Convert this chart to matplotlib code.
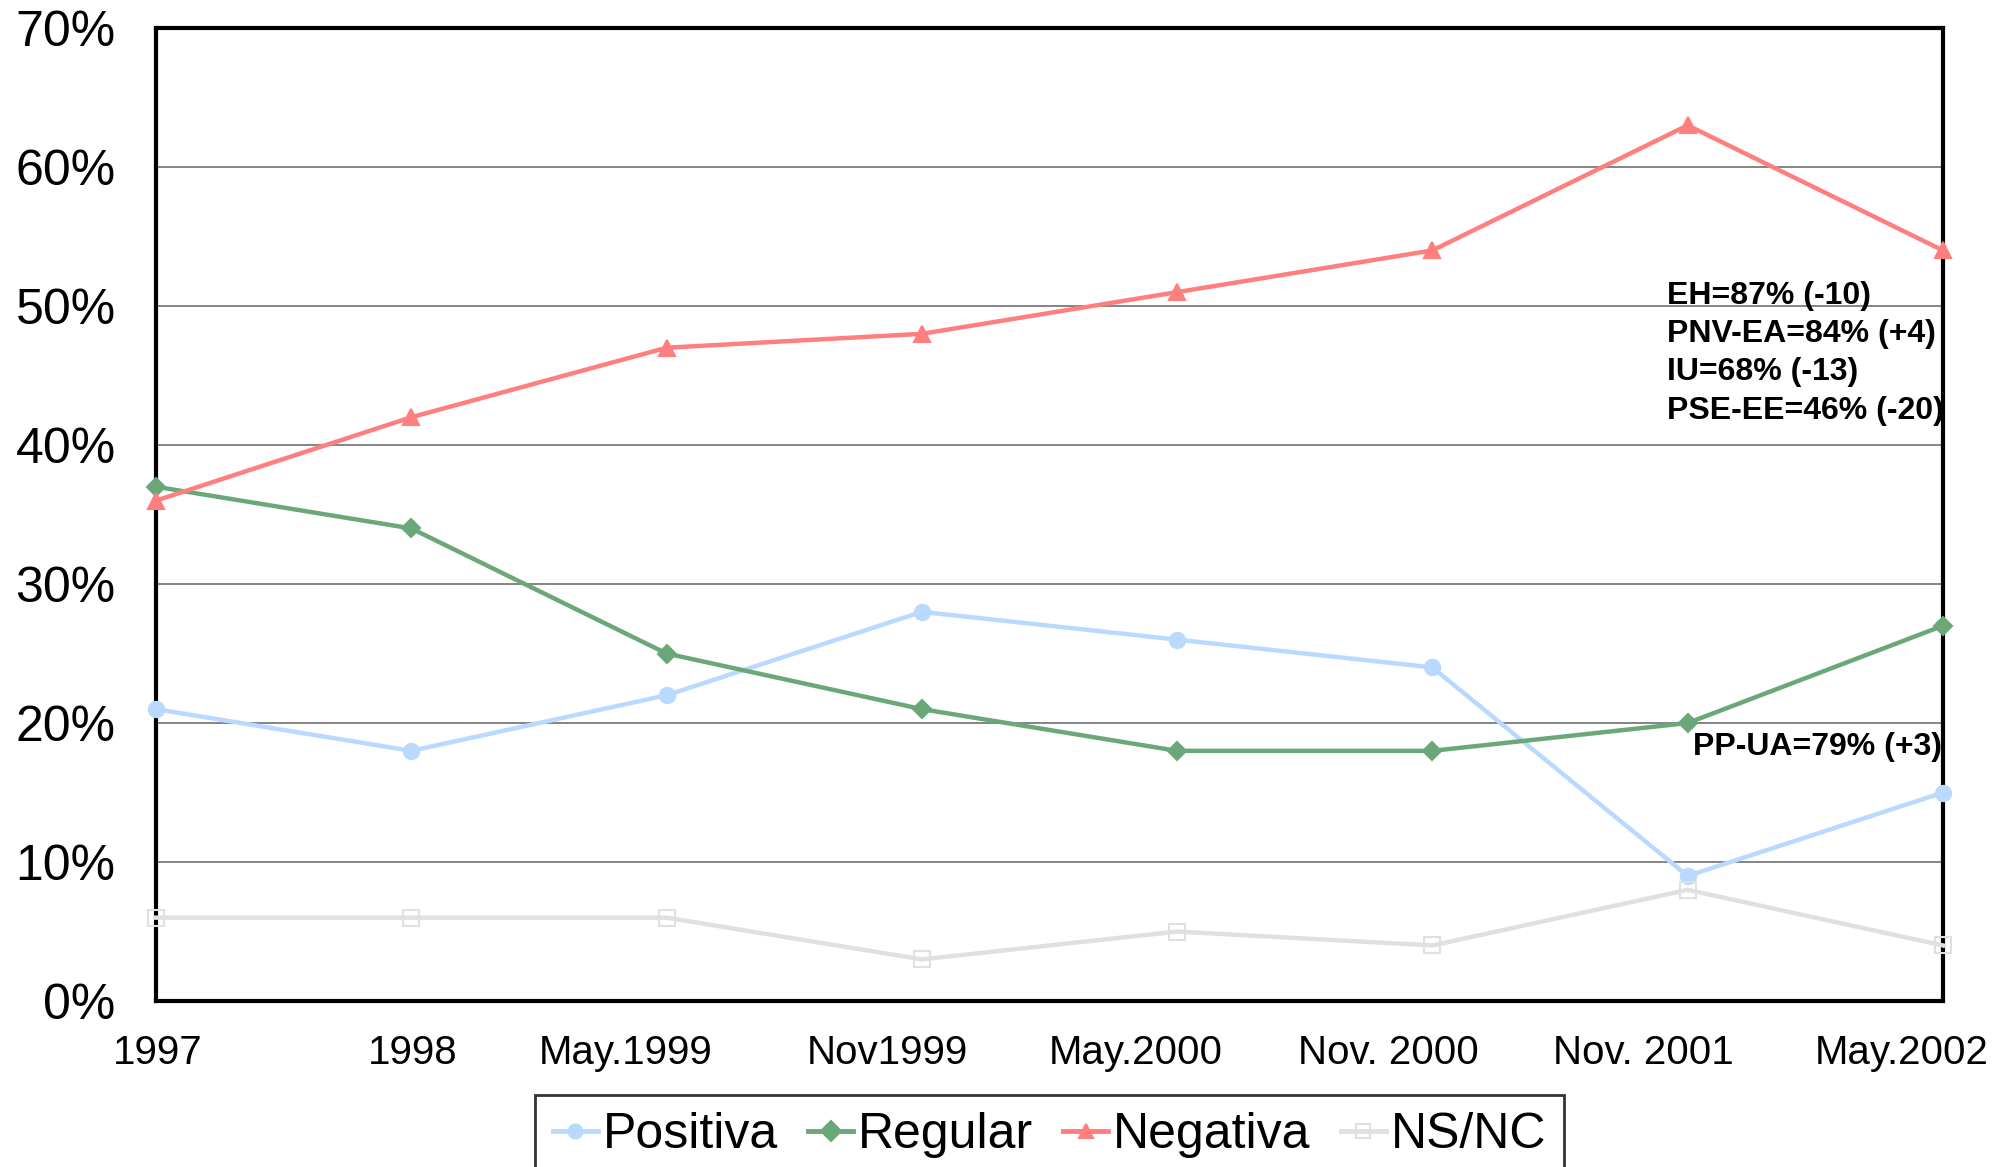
import numpy as np
import matplotlib
matplotlib.use('Agg')
import matplotlib.pyplot as plt
import matplotlib.transforms as mtransforms

plt.rcParams['font.family'] = ['Liberation Sans', 'DejaVu Sans']

# Datos
periods = ['1997', '1998', 'May.1999', 'Nov1999', 'May.2000',
           'Nov. 2000', 'Nov. 2001', 'May.2002']
positiva = [21, 18, 22, 28, 26, 24, 9, 15]
regular = [37, 34, 25, 21, 18, 18, 20, 27]
negativa = [36, 42, 47, 48, 51, 54, 63, 54]
nsnc = [6, 6, 6, 3, 5, 4, 8, 4]

series = [
    ('Positiva', positiva, '#b9d9ff', 'o', 11),
    ('Regular', regular, '#6aa87a', 'D', 9),
    ('Negativa', negativa, '#ff7f7f', '^', 12),
    ('NS/NC', nsnc, '#e0e0e0', 's', 12),
]

annot_top = 'EH=87% (-10)\nPNV-EA=84% (+4)\nIU=68% (-13)\nPSE-EE=46% (-20)'
annot_pp = 'PP-UA=79% (+3)'

fig = plt.figure(figsize=(20.13, 11.67), dpi=100)
ax = fig.add_axes([0.0775, 0.1422, 0.8877, 0.8338])

x = np.arange(len(periods))
for name, vals, color, marker, ms in series:
    mfc = 'none' if marker == 's' else color
    ax.plot(x, vals, color=color, linewidth=3.2, marker=marker,
            markersize=ms, markerfacecolor=mfc, markeredgecolor=color,
            markeredgewidth=1.5, label=name, clip_on=False, zorder=3)

ax.set_xlim(0, len(periods) - 1)
ax.set_ylim(0, 70)
ax.set_yticks(np.arange(0, 71, 10))
ax.set_yticklabels([f'{v}%' for v in range(0, 71, 10)], fontsize=36)
ax.yaxis.grid(True, color='#707070', linewidth=1.2)
ax.set_axisbelow(True)
ax.tick_params(axis='both', length=0)
ax.tick_params(axis='y', pad=29)

ax.set_xticks(x)
ax.set_xticklabels(periods, fontsize=29, ha='right')
ax.tick_params(axis='x', pad=24)
offset = mtransforms.ScaledTranslation(46 / 100, 0, fig.dpi_scale_trans)
for lbl in ax.get_xticklabels():
    lbl.set_transform(lbl.get_transform() + offset)

for sp in ax.spines.values():
    sp.set_linewidth(3)
    sp.set_color('black')

ax.text(5.92, 46.6, annot_top, fontsize=23, fontweight='bold',
        va='center', ha='left', linespacing=1.36, zorder=4)
ax.text(6.02, 18.25, annot_pp, fontsize=23, fontweight='bold',
        va='center', ha='left', zorder=4)

leg = fig.legend(loc='upper center', bbox_to_anchor=(0.5214, 0.0617),
                 ncol=4, fontsize=36, frameon=True, fancybox=False,
                 handlelength=0.9, handletextpad=0.1, columnspacing=0.6,
                 borderpad=0.35, borderaxespad=0)
leg.get_frame().set_edgecolor('black')
leg.get_frame().set_linewidth(2)
for h in leg.legend_handles:
    h.set_markersize(10)
    h.set_linewidth(3.5)

fig.savefig('out.png', dpi=100)
